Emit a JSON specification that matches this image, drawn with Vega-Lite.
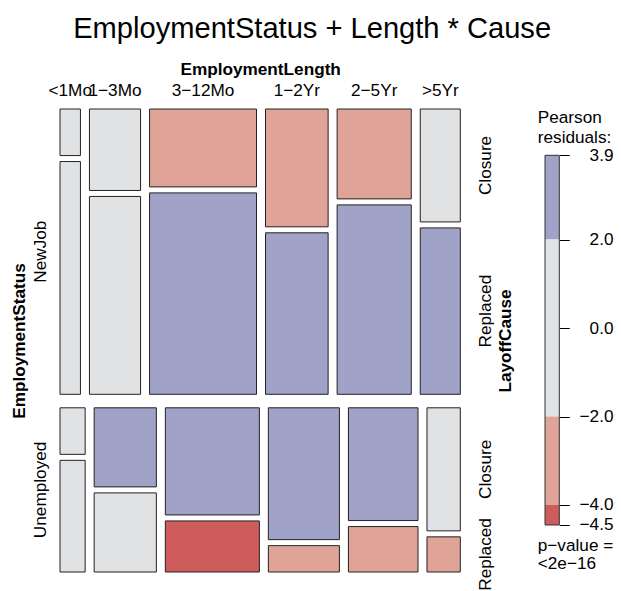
{
  "$schema": "https://vega.github.io/schema/vega-lite/v6.json",
  "background": "white",
  "padding": {"left": 10, "top": 14, "right": 0, "bottom": 0},
  "spacing": 84,
  "bounds": "flush",
  "config": {
    "view": {"stroke": null},
    "font": "Liberation Sans",
    "axis": {"grid": false, "labelColor": "black", "titleColor": "black"},
    "title": {"color": "black"}
  },
  "datasets": {
    "employment": [
      {"Status": "NewJob", "Length": "<1Mo", "Cause": "Closure", "count": 8, "residual": -1.01},
      {"Status": "NewJob", "Length": "1−3Mo", "Cause": "Closure", "count": 35, "residual": -1.98},
      {"Status": "NewJob", "Length": "3−12Mo", "Cause": "Closure", "count": 70, "residual": -2.92},
      {"Status": "NewJob", "Length": "1−2Yr", "Cause": "Closure", "count": 62, "residual": -2.96},
      {"Status": "NewJob", "Length": "2−5Yr", "Cause": "Closure", "count": 56, "residual": -2.5},
      {"Status": "NewJob", "Length": ">5Yr", "Cause": "Closure", "count": 38, "residual": -1.22},
      {"Status": "NewJob", "Length": "<1Mo", "Cause": "Replaced", "count": 40, "residual": -0.1},
      {"Status": "NewJob", "Length": "1−3Mo", "Cause": "Replaced", "count": 85, "residual": 0.49},
      {"Status": "NewJob", "Length": "3−12Mo", "Cause": "Replaced", "count": 181, "residual": 3.38},
      {"Status": "NewJob", "Length": "1−2Yr", "Cause": "Replaced", "count": 85, "residual": 2.61},
      {"Status": "NewJob", "Length": "2−5Yr", "Cause": "Replaced", "count": 118, "residual": 2.71},
      {"Status": "NewJob", "Length": ">5Yr", "Cause": "Replaced", "count": 56, "residual": 2.18},
      {"Status": "Unemployed", "Length": "<1Mo", "Cause": "Closure", "count": 10, "residual": 1.33},
      {"Status": "Unemployed", "Length": "1−3Mo", "Cause": "Closure", "count": 42, "residual": 2.62},
      {"Status": "Unemployed", "Length": "3−12Mo", "Cause": "Closure", "count": 86, "residual": 3.84},
      {"Status": "Unemployed", "Length": "1−2Yr", "Cause": "Closure", "count": 80, "residual": 3.91},
      {"Status": "Unemployed", "Length": "2−5Yr", "Cause": "Closure", "count": 67, "residual": 3.29},
      {"Status": "Unemployed", "Length": ">5Yr", "Cause": "Closure", "count": 35, "residual": 1.61},
      {"Status": "Unemployed", "Length": "<1Mo", "Cause": "Replaced", "count": 24, "residual": 0.13},
      {"Status": "Unemployed", "Length": "1−3Mo", "Cause": "Replaced", "count": 42, "residual": -0.64},
      {"Status": "Unemployed", "Length": "3−12Mo", "Cause": "Replaced", "count": 41, "residual": -4.45},
      {"Status": "Unemployed", "Length": "1−2Yr", "Cause": "Replaced", "count": 16, "residual": -3.44},
      {"Status": "Unemployed", "Length": "2−5Yr", "Cause": "Replaced", "count": 27, "residual": -3.57},
      {"Status": "Unemployed", "Length": ">5Yr", "Cause": "Replaced", "count": 10, "residual": -2.87}
    ],
    "legend": [
      {"lo": 2, "hi": 3.906},
      {"lo": -2, "hi": 2},
      {"lo": -4, "hi": -2},
      {"lo": -4.452, "hi": -4}
    ]
  },
  "hconcat": [
    {
      "width": 400.3,
      "height": 463,
      "title": {"text": "EmploymentStatus + Length * Cause", "fontSize": 29.1, "fontWeight": "normal", "frame": "group", "anchor": "middle", "dx": 52, "offset": 16},
      "data": {"name": "employment"},
      "transform": [
        {"calculate": "indexof(['NewJob','Unemployed'], datum.Status)", "as": "si"},
        {"calculate": "indexof(['<1Mo','1−3Mo','3−12Mo','1−2Yr','2−5Yr','>5Yr'], datum.Length)", "as": "li"},
        {"calculate": "indexof(['Closure','Replaced'], datum.Cause)", "as": "ci"},
        {"joinaggregate": [{"op": "sum", "field": "count", "as": "N"}]},
        {"joinaggregate": [{"op": "sum", "field": "count", "as": "nS"}], "groupby": ["Status"]},
        {"joinaggregate": [{"op": "sum", "field": "count", "as": "nSL"}], "groupby": ["Status", "Length"]},
        {"stack": "count", "groupby": [], "sort": [{"field": "si"}, {"field": "li"}, {"field": "ci"}], "as": ["t0", "t1"]},
        {"stack": "count", "groupby": ["Status"], "sort": [{"field": "li"}, {"field": "ci"}], "as": ["s0", "s1"]},
        {"joinaggregate": [{"op": "min", "field": "t0", "as": "cS"}], "groupby": ["Status"]},
        {"joinaggregate": [{"op": "min", "field": "s0", "as": "cL"}], "groupby": ["Status", "Length"]},
        {"calculate": "datum.cS / datum.N * 449.5 + datum.si * 13.5", "as": "ys0"},
        {"calculate": "datum.nS / datum.N * 449.5", "as": "hS"},
        {"calculate": "datum.cL / datum.nS * 355.3 + datum.li * 9", "as": "x0"},
        {"calculate": "datum.x0 + datum.nSL / datum.nS * 355.3", "as": "x1"},
        {"calculate": "datum.ys0 + (datum.s0 - datum.cL) / datum.nSL * (datum.hS - 6) + datum.ci * 6", "as": "y0"},
        {"calculate": "datum.y0 + datum.count / datum.nSL * (datum.hS - 6)", "as": "y1"},
        {"calculate": "(datum.x0 + datum.x1) / 2", "as": "xc"},
        {"calculate": "(datum.y0 + datum.y1) / 2", "as": "yc"},
        {"calculate": "datum.ys0 + datum.hS / 2", "as": "ysc"}
      ],
      "layer": [
        {
          "mark": {"type": "rect", "stroke": "#222222", "strokeWidth": 1},
          "encoding": {
            "x": {"field": "x0", "type": "quantitative", "scale": {"domain": [0, 400.3], "nice": false, "zero": false},
              "axis": {"orient": "top", "title": "EmploymentLength", "labels": false, "ticks": false, "domain": false, "titleFontSize": 17.2, "titleFontWeight": "bold", "titlePadding": 31}},
            "x2": {"field": "x1"},
            "y": {"field": "y0", "type": "quantitative", "scale": {"domain": [0, 463], "reverse": true, "nice": false, "zero": false},
              "axis": {"orient": "left", "title": "EmploymentStatus", "labels": false, "ticks": false, "domain": false, "titleFontSize": 17.2, "titleFontWeight": "bold", "titlePadding": 32}},
            "y2": {"field": "y1"},
            "color": {"field": "residual", "type": "quantitative",
              "scale": {"type": "threshold", "domain": [-4, -2, 2, 4], "range": ["#CE5C5A", "#E0A397", "#E1E2E4", "#A0A2C8", "#6E74B5"]},
              "legend": null}
          }
        },
        {
          "transform": [{"filter": "datum.si == 0 && datum.ci == 0"}],
          "mark": {"type": "text", "fontSize": 17.2, "align": "center", "baseline": "alphabetic", "dy": -13, "color": "black"},
          "encoding": {
            "x": {"field": "xc", "type": "quantitative", "scale": {"domain": [0, 400.3], "nice": false, "zero": false}, "axis": null},
            "y": {"field": "y0", "type": "quantitative", "scale": {"domain": [0, 463], "reverse": true, "nice": false, "zero": false}, "axis": null},
            "text": {"field": "Length"}
          }
        },
        {
          "transform": [{"filter": "datum.li == 0 && datum.ci == 0"}],
          "mark": {"type": "text", "fontSize": 17.2, "angle": 270, "align": "center", "baseline": "alphabetic", "dy": -13.7, "color": "black"},
          "encoding": {
            "x": {"field": "x0", "type": "quantitative", "scale": {"domain": [0, 400.3], "nice": false, "zero": false}, "axis": null},
            "y": {"field": "ysc", "type": "quantitative", "scale": {"domain": [0, 463], "reverse": true, "nice": false, "zero": false}, "axis": null},
            "text": {"field": "Status"}
          }
        },
        {
          "transform": [{"filter": "datum.li == 5"}],
          "mark": {"type": "text", "fontSize": 17.2, "angle": 270, "align": "center", "baseline": "alphabetic", "dy": 30.5, "color": "black"},
          "encoding": {
            "x": {"field": "x1", "type": "quantitative", "scale": {"domain": [0, 400.3], "nice": false, "zero": false}, "axis": null},
            "y": {"field": "yc", "type": "quantitative", "scale": {"domain": [0, 463], "reverse": true, "nice": false, "zero": false},
              "axis": {"orient": "right", "title": "LayoffCause", "labels": false, "ticks": false, "domain": false, "titleAngle": 270, "titleBaseline": "top", "titleFontSize": 17.2, "titleFontWeight": "bold", "titlePadding": 36.5}},
            "text": {"field": "Cause"}
          }
        }
      ],
      "resolve": {"scale": {"x": "independent", "y": "independent"}}
    },
    {
      "width": 14.3,
      "height": 463,
      "data": {"name": "legend"},
      "layer": [
        {
          "mark": {"type": "rect"},
          "encoding": {
            "y": {"field": "lo", "type": "quantitative", "scale": {"domain": [-5.515, 4.953], "nice": false, "zero": false},
              "axis": {"orient": "right", "values": [3.906, 2, 0, -2, -4, -4.452], "labelExpr": "format(datum.value, '.1f')", "tickSize": 10, "tickColor": "black", "tickWidth": 1, "domain": false, "labelAlign": "right", "labelBaseline": "middle", "labelPadding": 43.7, "labelFontSize": 17.2, "labelOverlap": false, "labelFlush": false, "title": null}},
            "y2": {"field": "hi"},
            "color": {"field": "lo", "type": "quantitative",
              "scale": {"type": "threshold", "domain": [-4, -2, 2, 4], "range": ["#CE5C5A", "#E0A397", "#E1E2E4", "#A0A2C8", "#6E74B5"]},
              "legend": null}
          }
        },
        {
          "transform": [{"aggregate": [{"op": "min", "field": "lo", "as": "blo"}, {"op": "max", "field": "hi", "as": "bhi"}]}],
          "layer": [
            {
              "mark": {"type": "rect", "filled": false, "stroke": "#333333", "strokeWidth": 1},
              "encoding": {
                "y": {"field": "blo", "type": "quantitative"},
                "y2": {"field": "bhi"}
              }
            },
            {
              "mark": {"type": "text", "text": ["Pearson", "residuals:"], "align": "left", "baseline": "alphabetic", "dx": -14.4, "dy": -32, "lineHeight": 19.5, "fontSize": 17.2, "color": "black"},
              "encoding": {"y": {"field": "bhi", "type": "quantitative"}}
            },
            {
              "mark": {"type": "text", "text": ["p−value =", "<2e−16"], "align": "left", "baseline": "alphabetic", "dx": -14.4, "dy": 26, "lineHeight": 18.5, "fontSize": 17.2, "color": "black"},
              "encoding": {"y": {"field": "blo", "type": "quantitative"}}
            }
          ]
        }
      ]
    }
  ]
}
